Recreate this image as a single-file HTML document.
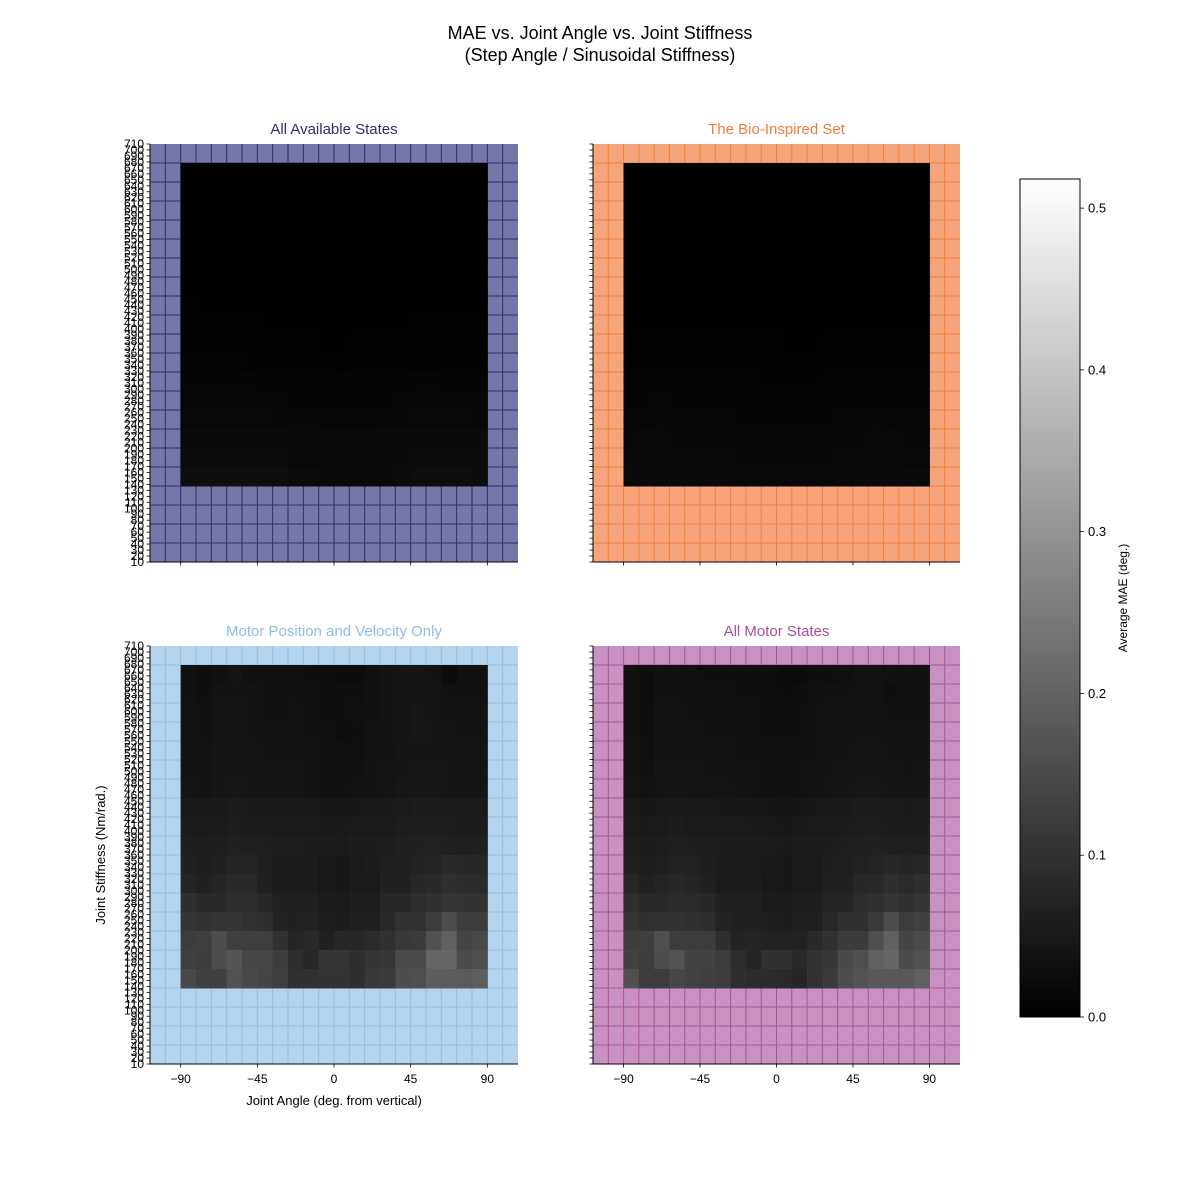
<!DOCTYPE html>
<html><head><meta charset="utf-8"><style>
html,body{margin:0;padding:0;background:#fff;}
svg{display:block;font-family:"Liberation Sans","DejaVu Sans",sans-serif;}
</style></head><body>
<svg id="fig" width="1200" height="1196" viewBox="0 0 1200 1196">
<text x="600" y="39" text-anchor="middle" font-size="18">MAE vs. Joint Angle vs. Joint Stiffness</text>
<text x="600" y="61" text-anchor="middle" font-size="18">(Step Angle / Sinusoidal Stiffness)</text>
<g id="panels"></g>
<defs><linearGradient id="cbg" x1="0" y1="1" x2="0" y2="0"><stop offset="0" stop-color="#000"/><stop offset="1" stop-color="#fff"/></linearGradient></defs>
<rect x="1020" y="179" width="60" height="838" fill="url(#cbg)" stroke="#000" stroke-width="1"/>
<g id="cbticks"></g>
<text transform="translate(1127,598) rotate(-90)" text-anchor="middle" font-size="12">Average MAE (deg.)</text>
<text x="334" y="1105" text-anchor="middle" font-size="13">Joint Angle (deg. from vertical)</text>
<text transform="translate(105,855) rotate(-90)" text-anchor="middle" font-size="13">Joint Stiffness (Nm/rad.)</text>
</svg>
<script>
const angleCats = [-90,-81,-72,-63,-54,-45,-36,-27,-18,-9,0,9,18,27,36,45,54,63,72,81];
const xTicks = [-90,-45,0,45,90];
const cbTicks = [0.0,0.1,0.2,0.3,0.4,0.5];
const cbMax = 0.518;
const allStates = [
[.002,.002,.002,.002,.002,.002,.002,.002,.002,.002,.002,.002,.002,.002,.002,.002,.002,.002,.002,.002],
[.002,.002,.002,.002,.002,.002,.002,.002,.002,.002,.002,.002,.002,.002,.002,.002,.002,.002,.002,.002],
[.002,.002,.002,.002,.002,.002,.002,.002,.002,.002,.002,.002,.002,.002,.002,.002,.002,.002,.002,.002],
[.002,.002,.002,.002,.002,.002,.002,.002,.002,.002,.002,.002,.002,.002,.002,.002,.002,.002,.002,.002],
[.002,.002,.002,.002,.002,.002,.002,.002,.002,.002,.002,.002,.002,.002,.002,.002,.002,.002,.002,.002],
[.002,.002,.002,.002,.002,.002,.002,.002,.002,.002,.002,.002,.002,.002,.002,.002,.002,.002,.002,.002],
[.003,.002,.002,.002,.002,.002,.002,.002,.002,.002,.002,.002,.002,.002,.002,.002,.002,.002,.002,.002],
[.004,.003,.003,.003,.003,.003,.003,.003,.003,.002,.002,.003,.003,.003,.003,.003,.003,.003,.003,.003],
[.005,.004,.004,.004,.004,.003,.003,.003,.003,.003,.003,.003,.003,.003,.003,.004,.005,.005,.004,.004],
[.006,.006,.006,.004,.004,.004,.004,.004,.004,.003,.003,.004,.004,.004,.004,.004,.004,.006,.006,.006],
[.008,.008,.008,.008,.006,.006,.006,.006,.006,.006,.004,.006,.006,.006,.006,.006,.006,.006,.006,.006],
[.010,.010,.010,.010,.010,.008,.008,.008,.008,.008,.008,.008,.008,.008,.008,.010,.010,.008,.008,.008],
[.012,.014,.014,.014,.014,.012,.012,.010,.010,.010,.010,.010,.010,.010,.012,.012,.012,.014,.012,.012],
[.016,.018,.018,.016,.016,.016,.014,.014,.014,.012,.012,.012,.012,.014,.014,.016,.016,.016,.016,.014],
[.020,.022,.022,.022,.020,.020,.018,.016,.016,.016,.016,.016,.016,.018,.018,.020,.020,.020,.020,.020],
[.024,.026,.026,.026,.026,.024,.024,.018,.018,.018,.018,.018,.018,.020,.022,.024,.024,.024,.024,.024],
[.028,.030,.030,.030,.030,.028,.028,.024,.024,.020,.020,.020,.020,.022,.024,.028,.028,.028,.028,.026]];
const bioSet = [
[.002,.002,.002,.002,.002,.002,.002,.002,.002,.002,.002,.002,.002,.002,.002,.002,.002,.002,.002,.002],
[.002,.002,.002,.002,.002,.002,.002,.002,.002,.002,.002,.002,.002,.002,.002,.002,.002,.002,.002,.002],
[.002,.002,.002,.002,.002,.002,.002,.002,.002,.002,.002,.002,.002,.002,.002,.002,.002,.002,.002,.002],
[.002,.002,.002,.002,.002,.002,.002,.002,.002,.002,.002,.002,.002,.002,.002,.002,.002,.002,.002,.002],
[.002,.002,.002,.002,.002,.002,.002,.002,.002,.002,.002,.002,.002,.002,.002,.002,.002,.002,.002,.002],
[.002,.002,.002,.002,.002,.002,.002,.002,.002,.002,.002,.002,.002,.002,.002,.002,.002,.002,.002,.002],
[.002,.002,.002,.002,.002,.002,.002,.002,.002,.002,.002,.002,.002,.002,.002,.002,.002,.002,.002,.002],
[.002,.002,.002,.002,.002,.002,.002,.002,.002,.002,.002,.002,.002,.002,.002,.002,.002,.002,.002,.002],
[.003,.003,.003,.003,.003,.003,.003,.003,.003,.003,.002,.002,.003,.003,.003,.003,.003,.003,.003,.003],
[.004,.004,.004,.004,.004,.004,.004,.004,.004,.004,.003,.003,.003,.004,.004,.004,.004,.004,.004,.004],
[.006,.006,.006,.006,.006,.006,.006,.006,.006,.006,.004,.004,.004,.006,.006,.006,.006,.006,.006,.006],
[.008,.008,.008,.008,.008,.008,.008,.008,.008,.006,.006,.006,.006,.008,.008,.008,.008,.008,.008,.008],
[.010,.010,.012,.010,.010,.010,.010,.010,.008,.008,.008,.008,.008,.010,.010,.010,.010,.010,.010,.010],
[.012,.012,.014,.012,.012,.012,.012,.010,.010,.010,.010,.010,.010,.010,.012,.012,.014,.012,.012,.012],
[.014,.016,.016,.014,.014,.014,.014,.012,.012,.012,.012,.012,.012,.012,.014,.014,.016,.016,.014,.014],
[.018,.018,.018,.018,.016,.016,.016,.014,.014,.014,.014,.014,.014,.014,.016,.016,.018,.018,.016,.016],
[.020,.020,.020,.020,.018,.018,.018,.016,.016,.016,.016,.016,.016,.016,.018,.018,.020,.020,.020,.020]];
const motorPV = [
[.034,.030,.034,.040,.034,.034,.034,.034,.030,.028,.026,.026,.034,.038,.040,.040,.038,.024,.034,.034],
[.034,.030,.038,.038,.038,.034,.034,.034,.032,.030,.030,.030,.034,.038,.040,.040,.040,.034,.034,.034],
[.036,.034,.040,.040,.038,.034,.034,.036,.032,.030,.030,.032,.034,.038,.040,.044,.040,.036,.036,.036],
[.036,.034,.040,.040,.038,.036,.036,.036,.034,.032,.028,.030,.036,.038,.040,.044,.042,.040,.038,.038],
[.038,.036,.040,.040,.040,.038,.038,.038,.036,.032,.032,.032,.036,.038,.042,.042,.042,.040,.040,.040],
[.038,.036,.042,.042,.042,.040,.040,.040,.038,.034,.032,.034,.038,.040,.042,.044,.044,.042,.042,.042],
[.040,.038,.042,.044,.042,.040,.040,.040,.038,.034,.034,.036,.038,.040,.044,.046,.046,.042,.042,.042],
[.050,.048,.050,.054,.050,.050,.050,.050,.048,.044,.044,.046,.048,.050,.052,.056,.056,.052,.052,.052],
[.056,.054,.056,.060,.056,.056,.054,.054,.054,.050,.050,.052,.054,.056,.060,.062,.062,.060,.058,.058],
[.062,.060,.062,.068,.066,.062,.060,.060,.058,.054,.052,.058,.058,.060,.064,.068,.070,.066,.066,.068],
[.068,.062,.068,.076,.076,.064,.056,.056,.056,.048,.046,.052,.056,.064,.068,.072,.076,.084,.080,.080],
[.076,.068,.076,.084,.084,.068,.056,.056,.056,.048,.046,.052,.052,.068,.068,.080,.084,.096,.088,.088],
[.096,.084,.084,.092,.092,.080,.068,.068,.064,.056,.052,.060,.060,.080,.080,.092,.100,.108,.104,.104],
[.108,.102,.108,.108,.102,.096,.072,.068,.072,.062,.058,.068,.068,.084,.102,.102,.122,.156,.124,.124],
[.122,.126,.156,.128,.128,.128,.100,.076,.084,.068,.080,.080,.088,.100,.116,.120,.164,.196,.140,.148],
[.128,.124,.156,.172,.144,.144,.124,.092,.080,.108,.108,.096,.108,.112,.152,.152,.204,.208,.152,.160],
[.148,.132,.132,.164,.148,.140,.128,.100,.100,.104,.104,.096,.116,.120,.156,.160,.188,.188,.184,.192]];
const motorAll = [
[.032,.028,.034,.034,.032,.030,.030,.030,.030,.028,.024,.024,.030,.030,.032,.036,.036,.034,.034,.034],
[.032,.028,.034,.034,.034,.032,.032,.030,.030,.028,.026,.028,.032,.034,.034,.036,.036,.030,.032,.032],
[.034,.030,.036,.036,.034,.034,.034,.032,.032,.030,.028,.030,.034,.036,.036,.038,.036,.034,.034,.034],
[.034,.030,.036,.036,.036,.034,.034,.034,.032,.030,.030,.030,.034,.036,.036,.038,.038,.036,.036,.036],
[.036,.032,.038,.038,.038,.036,.036,.034,.034,.032,.032,.032,.034,.036,.038,.040,.040,.038,.036,.038],
[.038,.034,.040,.040,.040,.038,.038,.036,.036,.032,.032,.034,.036,.038,.040,.042,.042,.040,.038,.040],
[.040,.036,.040,.042,.040,.040,.040,.038,.036,.034,.034,.034,.036,.040,.042,.044,.044,.042,.040,.042],
[.048,.044,.048,.050,.048,.048,.046,.046,.044,.042,.040,.042,.046,.048,.050,.054,.054,.052,.050,.052],
[.054,.050,.054,.058,.054,.054,.052,.052,.050,.048,.046,.048,.052,.054,.058,.060,.060,.058,.056,.058],
[.060,.056,.060,.064,.062,.060,.058,.056,.054,.052,.050,.054,.056,.058,.062,.066,.068,.066,.064,.066],
[.066,.060,.066,.072,.070,.062,.056,.056,.054,.048,.046,.052,.054,.062,.066,.070,.074,.080,.076,.078],
[.078,.068,.074,.080,.076,.068,.056,.056,.056,.048,.046,.052,.054,.066,.068,.080,.082,.094,.086,.094],
[.094,.084,.084,.088,.086,.080,.068,.068,.064,.056,.050,.060,.060,.076,.076,.090,.098,.108,.100,.108],
[.108,.100,.104,.104,.100,.094,.072,.068,.068,.062,.058,.064,.066,.082,.100,.100,.118,.156,.124,.130],
[.124,.126,.160,.124,.122,.122,.096,.072,.076,.070,.070,.070,.084,.100,.120,.120,.160,.196,.140,.152],
[.132,.124,.156,.168,.136,.136,.124,.092,.076,.100,.100,.084,.104,.112,.148,.160,.196,.208,.152,.164],
[.160,.124,.124,.144,.136,.128,.124,.096,.088,.088,.084,.076,.104,.120,.156,.168,.180,.180,.180,.196]];
const panels = [
 {title:"All Available States", tcol:"#2b2d72", bg:"#7577a9", grid:"#2b2d72", x:150, y:144, w:368, h:418, data:allStates, ylab:true, xlab:false, key:"all-available"},
 {title:"The Bio-Inspired Set", tcol:"#f47a3c", bg:"#f5a47c", grid:"#f0823f", x:593, y:144, w:367, h:418, data:bioSet, ylab:false, xlab:false, key:"bio-inspired"},
 {title:"Motor Position and Velocity Only", tcol:"#8cbde6", bg:"#b4d4ee", grid:"#8dbfe8", x:150, y:646, w:368, h:418, data:motorPV, ylab:true, xlab:true, key:"motor-pos-vel"},
 {title:"All Motor States", tcol:"#a4509f", bg:"#c891c2", grid:"#a8529f", x:593, y:646, w:367, h:418, data:motorAll, ylab:false, xlab:true, key:"all-motor"}
];
const NS="http://www.w3.org/2000/svg";
function mk(tag,attrs,parent){const e=document.createElementNS(NS,tag);for(const k in attrs)e.setAttribute(k,attrs[k]);parent.appendChild(e);return e;}
const X0=-108,X1=108,Y0=10,Y1=710,NROWS=22,DATA_ROW0=4; // rows counted from bottom
function gray(v){const g=Math.max(0,Math.min(255,Math.round(v/cbMax*255)));return `rgb(${g},${g},${g})`;}
const root=document.getElementById('panels');
panels.forEach(p=>{
  const sx=a=>p.x+(a-X0)/(X1-X0)*p.w;
  const sy=s=>p.y+p.h-(s-Y0)/(Y1-Y0)*p.h;
  const rowH=(Y1-Y0)/NROWS;
  const g=mk('g',{},root);
  
  
  const bg=mk('rect',{x:p.x,y:p.y,width:p.w,height:p.h,fill:p.bg},g);
  
  
  for(let a=X0+9;a<X1;a+=9){const l=mk('line',{x1:sx(a),x2:sx(a),y1:p.y,y2:p.y+p.h,stroke:p.grid,'stroke-width':1},g);
    }
  for(let r=1;r<NROWS;r++){const s=Y0+r*rowH;const l=mk('line',{x1:p.x,x2:p.x+p.w,y1:sy(s),y2:sy(s),stroke:p.grid,'stroke-width':1},g);
    }
  const nR=p.data.length;
  p.data.forEach((row,ri)=>{
    const rb=DATA_ROW0+(nR-1-ri);
    const yTop=sy(Y0+(rb+1)*rowH), yBot=sy(Y0+rb*rowH);
    row.forEach((v,ci)=>{
      const a=angleCats[ci];
      const c=mk('rect',{x:sx(a),y:yTop,width:sx(a+9)-sx(a)+0.5,height:yBot-yTop+0.5,fill:gray(v)},g);
      
      
    });
  });
  const t=mk('text',{x:p.x+p.w/2,y:p.y-10,'text-anchor':'middle','font-size':15,fill:p.tcol},g);
  t.textContent=p.title;
  
  
  const sp1=mk('line',{x1:p.x,x2:p.x,y1:p.y,y2:p.y+p.h,stroke:'#000','stroke-width':1},g);
  
  const sp2=mk('line',{x1:p.x,x2:p.x+p.w,y1:p.y+p.h,y2:p.y+p.h,stroke:'#000','stroke-width':1},g);
  
  for(let s=10;s<=710;s+=10){
    const yy=sy(s);
    const tk=mk('line',{x1:p.x-3.5,x2:p.x,y1:yy,y2:yy,stroke:'#000','stroke-width':0.8},g);
    
    if(p.ylab){const lt=mk('text',{x:p.x-6,y:yy+4,'text-anchor':'end','font-size':12},g);lt.textContent=s;
      }
  }
  xTicks.forEach(a=>{
    const xx=sx(a);
    const tk=mk('line',{x1:xx,x2:xx,y1:p.y+p.h,y2:p.y+p.h+3.5,stroke:'#000','stroke-width':0.8},g);
    
    if(p.xlab){const lt=mk('text',{x:xx,y:p.y+p.h+19,'text-anchor':'middle','font-size':12},g);lt.textContent=(a<0?'\u2212'+(-a):a);
      }
  });
});
const cb=document.getElementById('cbticks');
const cy=v=>1017-v/cbMax*838;
cbTicks.forEach(v=>{
  const tk=mk('line',{x1:1080,x2:1084,y1:cy(v),y2:cy(v),stroke:'#000','stroke-width':0.8},cb);
  
  const lt=mk('text',{x:1088,y:cy(v)+4.5,'font-size':13},cb);lt.textContent=v.toFixed(1);
  
});
</script>
</body></html>
